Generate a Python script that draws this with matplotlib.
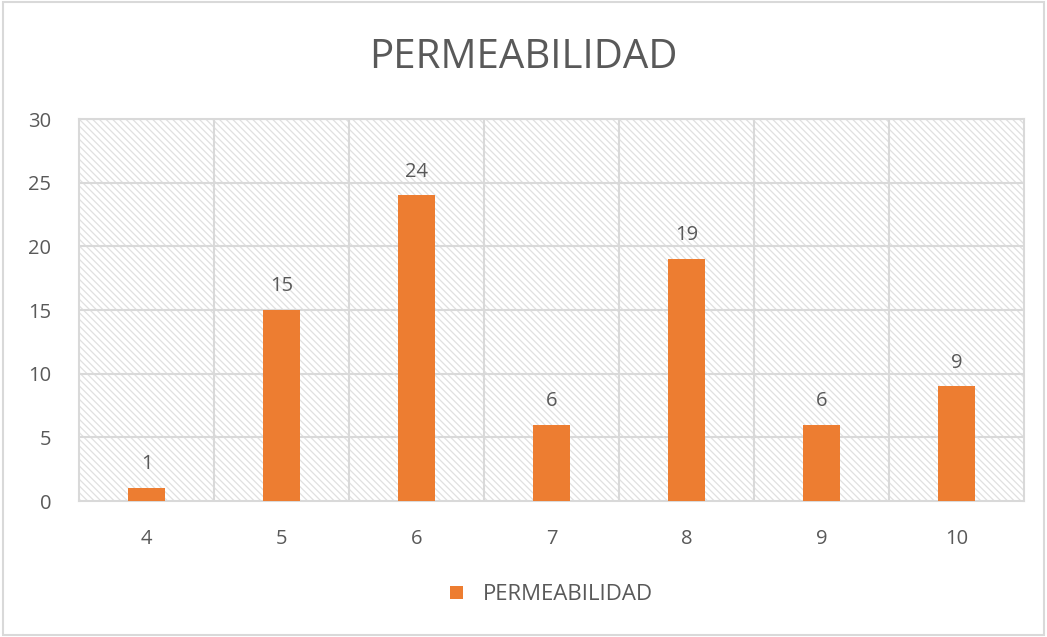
import matplotlib.pyplot as plt
from matplotlib.patches import Rectangle

# data
categories = ["4", "5", "6", "7", "8", "9", "10"]
values = [1, 15, 24, 6, 19, 6, 9]
series_name = "PERMEABILIDAD"

plt.rcParams["font.family"] = ["Open Sans", "DejaVu Sans"]
plt.rcParams["hatch.color"] = "#e0e0e0"
plt.rcParams["hatch.linewidth"] = 0.9

bar_color = "#ed7d31"
grid_color = "#d9d9d9"
text_color = "#595959"

fig = plt.figure(figsize=(10.47, 6.37), dpi=100)
ax = fig.add_axes([0.0755, 0.2135, 0.9025, 0.5995])

# hatched plot area background
ax.add_patch(Rectangle((0, 0), 1, 1, transform=ax.transAxes, facecolor="white",
                       edgecolor="#e0e0e0", hatch="\\\\\\\\\\", lw=0, zorder=0))

x = range(len(categories))
bars = ax.bar(x, values, width=0.27, color=bar_color, zorder=3, label=series_name)

for xi, v in zip(x, values):
    ax.annotate(str(v), (xi, v), xytext=(0, 10), textcoords="offset points",
                ha="center", va="bottom", fontsize=14.5, color=text_color)

ax.set_xlim(-0.5, len(categories) - 0.5)
ax.set_ylim(0, 30)
ax.set_yticks(range(0, 31, 5))
ax.set_xticks(list(x))
ax.set_xticklabels(categories)

# gridlines: horizontal at ticks, vertical between categories
for yv in range(5, 31, 5):
    ax.axhline(yv, color=grid_color, lw=1.5, zorder=1)
for b in range(1, len(categories)):
    ax.axvline(b - 0.5, color=grid_color, lw=1.5, zorder=1)

for s in ax.spines.values():
    s.set_color(grid_color)
    s.set_linewidth(1.5)

ax.tick_params(length=0, labelsize=14.5, colors=text_color)
ax.tick_params(axis="x", pad=20)
ax.tick_params(axis="y", pad=20)

fig.text(0.5, 0.91, series_name, ha="center", va="center", fontsize=29, color=text_color)

ax.legend(loc="center", bbox_to_anchor=(0.5, -0.245), frameon=False, fontsize=16,
          handlelength=0.55, handleheight=0.55, handletextpad=0.9, labelcolor=text_color)

# outer chart border
fig.add_artist(Rectangle((0.003, 0.003), 0.994, 0.994, transform=fig.transFigure,
                         fill=False, edgecolor="#d9d9d9", lw=1.5))

fig.savefig("out.png", dpi=100)
